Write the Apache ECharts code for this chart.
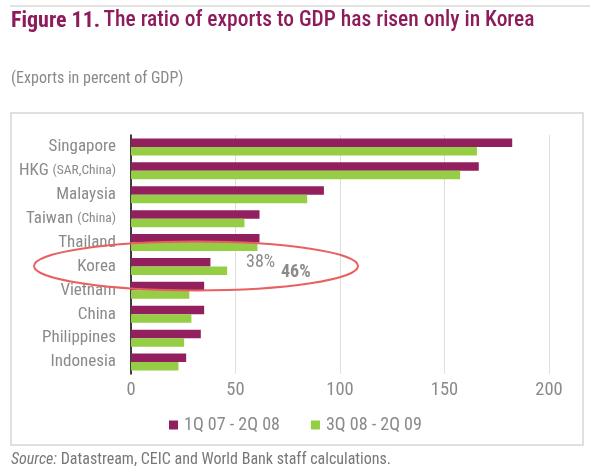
<!DOCTYPE html>
<html><head><meta charset="utf-8">
<script src="https://cdn.jsdelivr.net/npm/echarts@6/dist/echarts.min.js"></script>
<style>html,body{margin:0;padding:0;background:#fff}#c{width:590px;height:472px}</style>
</head><body><div id="c"></div>
<script>
const categories = ['Singapore','HKG','Malaysia','Taiwan','Thailand','Korea','Vietnam','China','Philippines','Indonesia'];
const categoryNotes = ['', '(SAR,China)', '', '(China)', '', '', '', '', '', ''];
const series1Name = '1Q 07 - 2Q 08';
const series2Name = '3Q 08 - 2Q 09';
const series1 = [182.4, 166.4, 92.3, 61.5, 61.5, 38, 35, 35, 33.4, 26.4];
const series2 = [165.5, 157.5, 84.3, 54.3, 60.5, 46, 27.9, 28.9, 25.4, 22.7];
const xTicks = [0, 50, 100, 150, 200];
const koreaLabels = ['38%', '46%'];
const titleBold = 'Figure 11.';
const titleRest = 'The ratio of exports to GDP has risen only in Korea';
const subtitle = '(Exports in percent of GDP)';
const sourceLead = 'Source:';
const sourceRest = ' Datastream, CEIC and World Bank staff calculations.';

const FONT = '"Roboto Condensed","Liberation Sans Narrow",sans-serif';
const GRAY = '#8a8a8a';
const PURPLE = '#92205f';
const GREEN = '#95cd45';

const chart = echarts.init(document.getElementById('c'), null, {renderer: 'canvas'});
chart.setOption({
  animation: false,
  backgroundColor: '#fff',
  textStyle: {fontFamily: FONT},
  grid: {left: 131, right: 41, top: 135, bottom: 98, containLabel: false},
  legend: {
    data: [series1Name, series2Name],
    left: 164, top: 411,
    icon: 'rect', itemWidth: 9, itemHeight: 9, itemGap: 31,
    textStyle: {fontFamily: FONT, fontSize: 18, color: GRAY, padding: [0, 0, 0, 1]}
  },
  xAxis: {
    type: 'value', min: xTicks[0], max: xTicks[xTicks.length - 1], interval: 50,
    axisLine: {show: false}, axisTick: {show: false},
    axisLabel: {fontFamily: FONT, fontSize: 18.5, color: GRAY, margin: 7},
    splitLine: {show: true, lineStyle: {color: '#dedede', width: 1}}
  },
  yAxis: {
    type: 'category', inverse: true, data: categories,
    axisLine: {show: true, lineStyle: {color: '#000', width: 1.5}},
    axisTick: {show: false},
    axisLabel: {
      fontFamily: FONT, fontSize: 17, color: GRAY, margin: 15,
      formatter: function (v, i) {
        return categoryNotes[i] ? v + ' {s|' + categoryNotes[i] + '}' : v;
      },
      rich: {s: {fontFamily: FONT, fontSize: 13.5, color: GRAY}}
    }
  },
  series: [
    {name: series1Name, type: 'bar', data: series1, barWidth: 8.5, barGap: '0%', itemStyle: {color: PURPLE}},
    {name: series2Name, type: 'bar', data: series2, barWidth: 8.5, barGap: '0%', itemStyle: {color: GREEN}}
  ],
  graphic: [
    {type: 'line', z: 0, shape: {x1: 10, y1: 6, x2: 590, y2: 6}, style: {stroke: '#d9d9d9', lineWidth: 1.5}},
    {type: 'rect', z: 0, shape: {x: 11, y: 113, width: 572, height: 332}, style: {fill: 'none', stroke: '#d6d6d6', lineWidth: 1.5}},
    {type: 'text', left: 11, top: 10, style: {
      text: '{a|' + titleBold + '} {b|' + titleRest + '}',
      rich: {
        a: {fontFamily: FONT, fontSize: 22, fontWeight: 'bold', fill: '#8e1b5a'},
        b: {fontFamily: FONT, fontSize: 21.5, fontWeight: 500, fill: '#8e1b5a'}
      }
    }},
    {type: 'text', left: 11, top: 71, style: {text: subtitle, fontFamily: FONT, fontSize: 16, fill: GRAY}},
    {type: 'text', left: 11, top: 452, style: {
      text: '{i|' + sourceLead + '}{r|' + sourceRest + '}',
      rich: {
        i: {fontFamily: FONT, fontSize: 16, fontStyle: 'italic', fill: '#777'},
        r: {fontFamily: FONT, fontSize: 16, fill: '#777'}
      }
    }},
    {type: 'ellipse', z: 100, shape: {cx: 196, cy: 266, rx: 162, ry: 24.5}, style: {fill: 'none', stroke: '#e8605f', lineWidth: 2}},
    {type: 'text', z: 101, left: 246, top: 253, style: {text: koreaLabels[0], fontFamily: FONT, fontSize: 18, fill: GRAY}},
    {type: 'text', z: 101, left: 281, top: 263, style: {text: koreaLabels[1], fontFamily: FONT, fontSize: 18, fontWeight: 'bold', fill: GRAY}}
  ]
});
</script></body></html>
